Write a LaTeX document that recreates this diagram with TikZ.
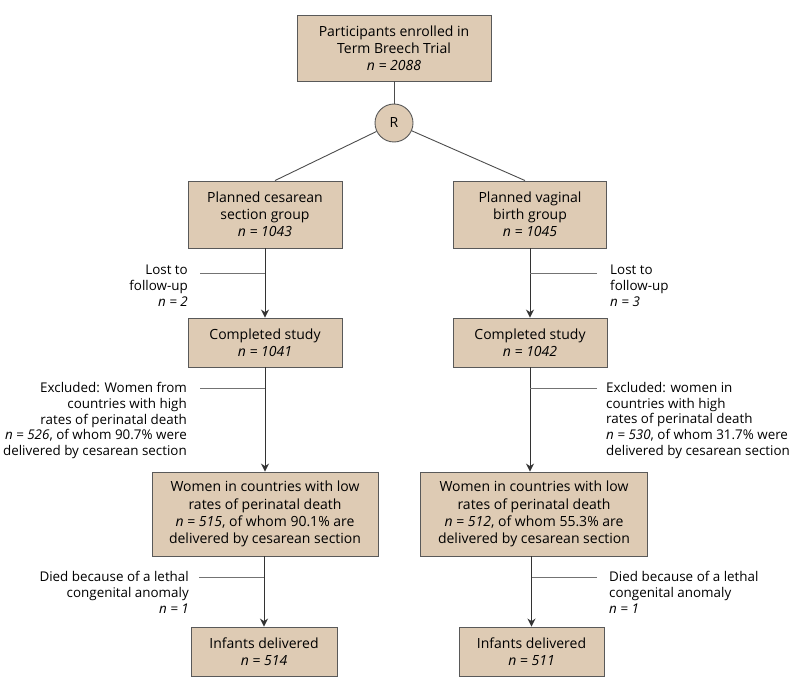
\documentclass[tikz,border=0pt]{standalone}
\usepackage{fontspec}
\setmainfont{Open Sans}
\usetikzlibrary{arrows.meta,calc}
\begin{document}
\begin{tikzpicture}[x=1pt,y=-1pt,
  font=\fontsize{14}{17.2}\selectfont,
  box/.style={draw=black!65, line width=0.9pt, fill=boxtan, align=center, inner sep=2pt},
  rnode/.style={circle, draw=black!65, line width=0.9pt, fill=boxtan, minimum size=38pt, inner sep=0pt},
  flow/.style={draw=black!80, line width=1pt, -{Stealth[length=8pt,width=8pt]}},
  plain/.style={draw=black!70, line width=0.9pt},
  side/.style={draw=black!55, line width=0.9pt},
  lbl/.style={align=right, inner sep=0pt, font=\fontsize{13.4}{15.8}\selectfont},
  rlbl/.style={align=left, inner sep=0pt, font=\fontsize{13.4}{15.8}\selectfont}]
\definecolor{boxtan}{RGB}{222,203,180}
\useasboundingbox (0,0) rectangle (800,687);

% boxes
\node[box, minimum width=194pt, minimum height=66pt] (top) at (394,48)
  {Participants enrolled in\\Term Breech Trial\\\textit{n = 2088}};
\node[rnode] (R) at (394,123) {R};
\node[box, minimum width=154pt, minimum height=67pt] (pc) at (265,214.5)
  {Planned cesarean\\section group\\\textit{n = 1043}};
\node[box, minimum width=153pt, minimum height=67pt] (pv) at (530,214.5)
  {Planned vaginal\\birth group\\\textit{n = 1045}};
\node[box, minimum width=154pt, minimum height=49pt] (cc) at (265,342.5)
  {Completed study\\\textit{n = 1041}};
\node[box, minimum width=154pt, minimum height=49pt] (cv) at (530,342.5)
  {Completed study\\\textit{n = 1042}};
\node[box, minimum width=226pt, minimum height=84pt] (wc) at (265,514)
  {Women in countries with low\\rates of perinatal death\\\textit{n = 515}, of whom 90.1\% are\\delivered by cesarean section};
\node[box, minimum width=227pt, minimum height=84pt] (wv) at (534,514)
  {Women in countries with low\\rates of perinatal death\\\textit{n = 512}, of whom 55.3\% are\\delivered by cesarean section};
\node[box, minimum width=146pt, minimum height=49pt] (ic) at (264,651.5)
  {Infants delivered\\\textit{n = 514}};
\node[box, minimum width=145pt, minimum height=49pt] (iv) at (531.5,651.5)
  {Infants delivered\\\textit{n = 511}};

% side labels
\node[lbl, anchor=north east] (lc1) at (188,265) {Lost to\\follow-up\\\textit{n = 2}};
\node[rlbl, anchor=north west] (lv1) at (610,265) {Lost to\\follow-up\\\textit{n = 3}};
\node[lbl, anchor=north east] (lc2) at (187,382) {Excluded: Women from\\countries with high\\rates of perinatal death\\\textit{n = 526}, of whom 90.7\% were\\delivered by cesarean section};
\node[rlbl, anchor=north west] (lv2) at (606,382) {Excluded: women in\\countries with high\\rates of perinatal death\\\textit{n = 530}, of whom 31.7\% were\\delivered by cesarean section};
\node[lbl, anchor=north east] (lc3) at (189,571) {Died because of a lethal\\congenital anomaly\\\textit{n = 1}};
\node[rlbl, anchor=north west] (lv3) at (609,571) {Died because of a lethal\\congenital anomaly\\\textit{n = 1}};

% side line free ends
\coordinate (ec1) at (200,273);
\coordinate (ev1) at (597,273);
\coordinate (ec2) at (200,388);
\coordinate (ev2) at (597,388);
\coordinate (ec3) at (199,577);
\coordinate (ev3) at (597,577);

% connectors
\draw[plain] (top.south) -- (R.north);
\draw[plain] (R) -- ($(pc.north)+(10,0)$);
\draw[plain] (R) -- ($(pv.north)+(-5,0)$);

\draw[flow] (pc.south) -- (cc.north);
\draw[flow] (pv.south) -- (cv.north);
\draw[flow] (cc.south) -- (cc.south |- wc.north);
\draw[flow] (cv.south) -- (cv.south |- wv.north);
\draw[flow] (wc.south -| ic.north) -- (ic.north);
\draw[flow] (wv.south -| iv.north) -- (iv.north);

\draw[side] (ec1) -- (ec1 -| pc.south);
\draw[side] (ev1) -- (ev1 -| pv.south);
\draw[side] (ec2) -- (ec2 -| cc.south);
\draw[side] (ev2) -- (ev2 -| cv.south);
\draw[side] (ec3) -- (ec3 -| ic.north);
\draw[side] (ev3) -- (ev3 -| iv.north);
\end{tikzpicture}
\end{document}
